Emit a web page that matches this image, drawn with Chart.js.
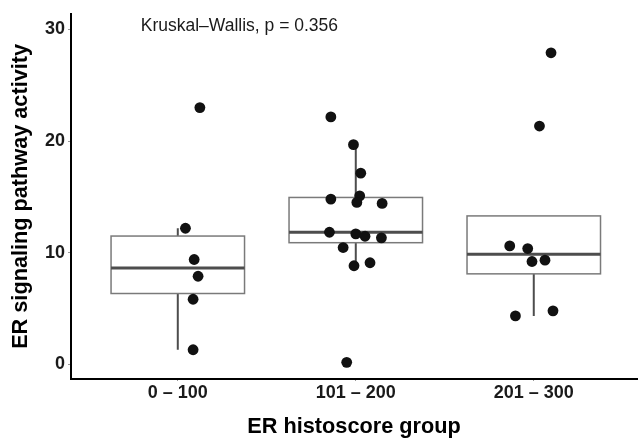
<!DOCTYPE html>
<html>
<head>
<meta charset="utf-8">
<script src="https://cdn.jsdelivr.net/npm/chart.js@4"></script>
<style>
  html, body { margin: 0; padding: 0; background: #fff; }
  #wrap { width: 638px; height: 440px; }
</style>
</head>
<body>
<div id="wrap"><canvas id="myChart" width="638" height="440"></canvas></div>
<script>
const groups = ["0 – 100", "101 – 200", "201 – 300"];
const yTicks = [0, 10, 20, 30];
const pLabel = "Kruskal–Wallis, p = 0.356";

// values, with their horizontal jitter (category units)
const values1 = [23.0, 12.2, 9.4, 7.9, 5.84, 1.32];
const jitter1 = [0.124, 0.043, 0.092, 0.114, 0.086, 0.086];
const values2 = [22.17, 19.68, 17.13, 15.1, 14.51, 14.81, 14.42, 11.84, 11.7, 11.48, 11.34, 10.47, 8.84, 9.11, 0.19];
const jitter2 = [-0.14, -0.013, 0.028, 0.022, 0.006, -0.14, 0.148, -0.148, 0.0, 0.052, 0.144, -0.071, -0.01, 0.08, -0.051];
const values3 = [27.91, 21.35, 10.62, 10.38, 9.22, 9.34, 4.35, 4.8];
const jitter3 = [0.097, 0.032, -0.135, -0.034, -0.01, 0.063, -0.103, 0.108];

const allValues = [values1, values2, values3];
const allJitter = [jitter1, jitter2, jitter3];

const fontFamily = "'Liberation Sans', Arial, sans-serif";
const ctx = document.getElementById("myChart");

const quantile = (arr, q) => {
	const s = [...arr].sort((a, b) => a - b);
	const pos = (s.length - 1) * q;
	const lo = Math.floor(pos);
	const hi = Math.ceil(pos);
	return s[lo] + (s[hi] - s[lo]) * (pos - lo);
};

const boxStats = allValues.map((vals) => {
	const q1 = quantile(vals, 0.25);
	const med = quantile(vals, 0.5);
	const q3 = quantile(vals, 0.75);
	const iqr = q3 - q1;
	const inside = vals.filter((v) => v >= q1 - 1.5 * iqr && v <= q3 + 1.5 * iqr);
	return { q1, med, q3, lo: Math.min(...inside), hi: Math.max(...inside) };
});

const points = [];
allValues.forEach((vals, g) => {
	vals.forEach((v, i) => points.push({ x: g + 1 + allJitter[g][i], y: v }));
});

const boxPlugin = {
	id: "boxes",
	beforeDatasetsDraw(chart) {
		const c = chart.ctx;
		const xs = chart.scales.x;
		const ys = chart.scales.y;
		c.save();
		boxStats.forEach((b, g) => {
			const cx = xs.getPixelForValue(g + 1);
			const left = xs.getPixelForValue(g + 1 - 0.375);
			const right = xs.getPixelForValue(g + 1 + 0.375);
			// whiskers
			c.strokeStyle = "#4d4d4d";
			c.lineWidth = 2;
			c.beginPath();
			c.moveTo(cx, ys.getPixelForValue(b.lo));
			c.lineTo(cx, ys.getPixelForValue(b.q1));
			c.moveTo(cx, ys.getPixelForValue(b.q3));
			c.lineTo(cx, ys.getPixelForValue(b.hi));
			c.stroke();
			// box
			const top = ys.getPixelForValue(b.q3);
			const bot = ys.getPixelForValue(b.q1);
			c.fillStyle = "#ffffff";
			c.fillRect(left, top, right - left, bot - top);
			c.strokeStyle = "#7a7a7a";
			c.lineWidth = 1.5;
			c.strokeRect(left, top, right - left, bot - top);
			// median
			c.strokeStyle = "#4d4d4d";
			c.lineWidth = 3;
			c.beginPath();
			c.moveTo(left, ys.getPixelForValue(b.med));
			c.lineTo(right, ys.getPixelForValue(b.med));
			c.stroke();
		});
		c.restore();
	},
	afterDraw(chart) {
		const c = chart.ctx;
		c.save();
		c.font = "17.5px " + fontFamily;
		c.fillStyle = "#1a1a1a";
		c.textAlign = "left";
		c.textBaseline = "alphabetic";
		c.fillText(pLabel, chart.scales.x.getPixelForValue(0.792), chart.scales.y.getPixelForValue(29.9));
		c.restore();
	},
};

new Chart(ctx, {
	type: "scatter",
	data: {
		datasets: [
			{
				data: points,
				backgroundColor: "#111111",
				borderWidth: 0,
				pointRadius: 5.4,
				pointHoverRadius: 5.4,
			},
		],
	},
	options: {
		responsive: false,
		animation: false,
		devicePixelRatio: 1,
		layout: { autoPadding: false, padding: { top: 12, right: 1, left: 0, bottom: 0 } },
		plugins: {
			legend: { display: false },
			tooltip: { enabled: false },
		},
		scales: {
			x: {
				type: "linear",
				min: 0.4,
				max: 3.58,
				afterBuildTicks: (s) => {
					s.ticks = groups.map((g, i) => ({ value: i + 1 }));
				},
				afterFit: (s) => {
					s.height = 61;
					s.paddingLeft = 0;
					s.paddingRight = 0;
				},
				ticks: {
					autoSkip: false,
					maxRotation: 0,
					padding: 1,
					color: "#1a1a1a",
					font: { family: fontFamily, size: 18, weight: "bold" },
					callback: (v) => groups[v - 1],
				},
				grid: { drawOnChartArea: false, tickLength: 2, color: "#999999" },
				border: { display: true, color: "#000000", width: 2 },
				title: {
					display: true,
					text: "ER histoscore group",
					color: "#000000",
					padding: { top: 0, bottom: 0 },
					font: { family: fontFamily, size: 21.7, weight: "bold" },
				},
			},
			y: {
				min: -1.3,
				max: 31.4,
				afterBuildTicks: (s) => {
					s.ticks = yTicks.map((v) => ({ value: v }));
				},
				afterFit: (s) => {
					s.width = 71;
				},
				ticks: {
					padding: 3,
					color: "#1a1a1a",
					font: { family: fontFamily, size: 18, weight: "bold" },
				},
				grid: { drawOnChartArea: false, tickLength: 3, color: "#999999" },
				border: { display: true, color: "#000000", width: 2 },
				title: {
					display: true,
					text: "ER signaling pathway activity",
					color: "#000000",
					padding: { top: 8, bottom: 0 },
					font: { family: fontFamily, size: 21.7, weight: "bold" },
				},
			},
		},
	},
	plugins: [boxPlugin],
});
</script>
</body>
</html>
